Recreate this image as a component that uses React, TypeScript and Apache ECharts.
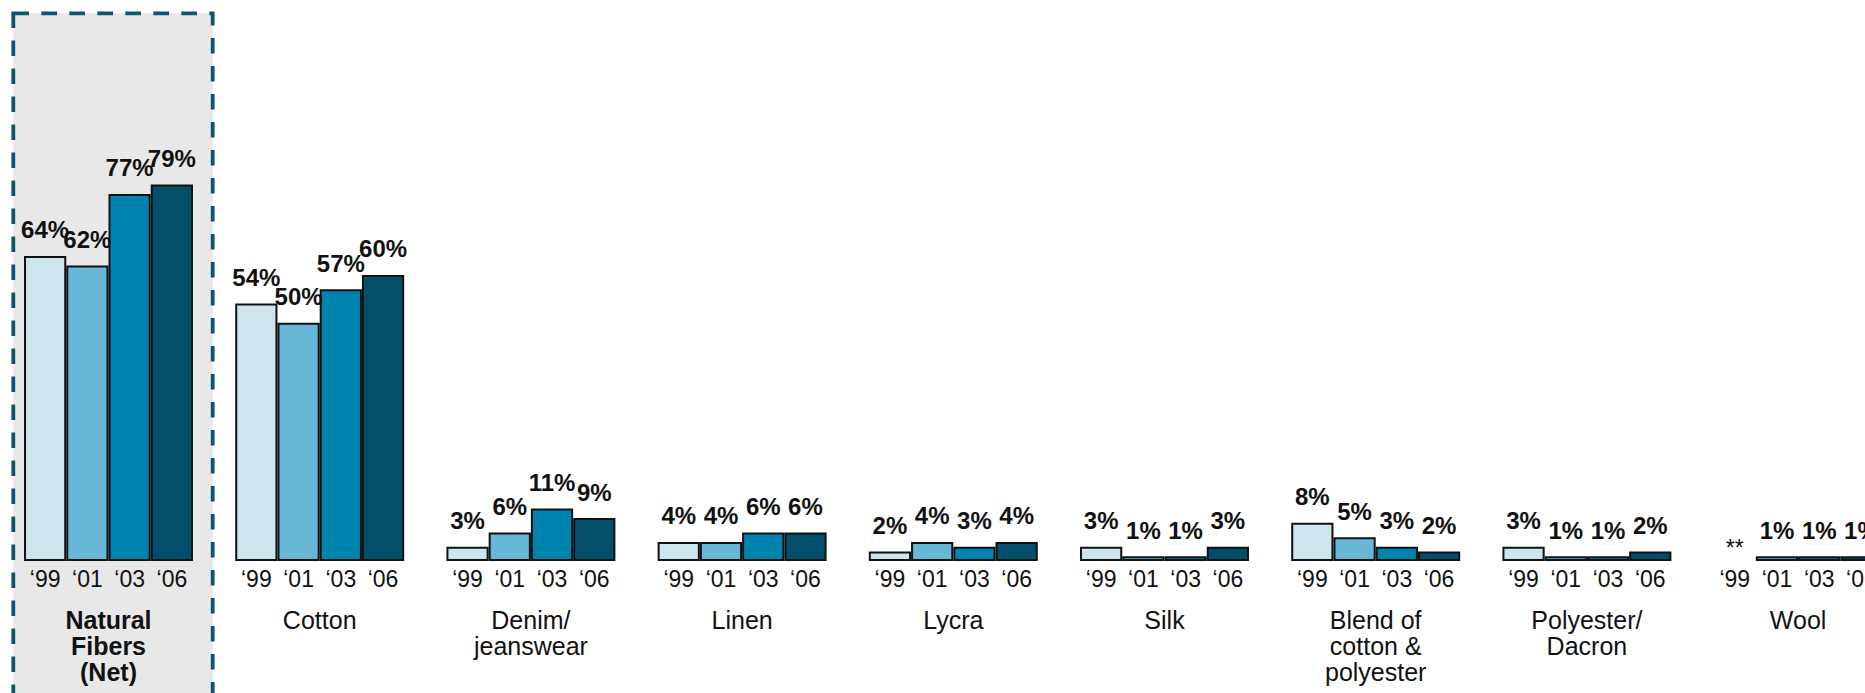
import React, { useEffect, useRef } from "react";
import * as echarts from "echarts";

const categories = [
  "Natural\nFibers\n(Net)",
  "Cotton",
  "Denim/\njeanswear",
  "Linen",
  "Lycra",
  "Silk",
  "Blend of\ncotton &\npolyester",
  "Polyester/\nDacron",
  "Wool",
];
const years = ["\u201899", "\u201801", "\u201803", "\u201806"];
const values99: (number | null)[] = [64, 54, 3, 4, 2, 3, 8, 3, null];
const values01: (number | null)[] = [62, 50, 6, 4, 4, 1, 5, 1, 1];
const values03: (number | null)[] = [77, 57, 11, 6, 3, 1, 3, 1, 1];
const values06: (number | null)[] = [79, 60, 9, 6, 4, 3, 2, 2, 1];
const notReportedLabel = "**";
const highlightedCategory = 0;

const yearColors = ["#cde6ed", "#66b8d6", "#0083ae", "#034f6b"];
const FONT = "'Liberation Sans', Arial, Helvetica, sans-serif";

export default function App() {
  const ref = useRef<HTMLDivElement>(null);

  useEffect(() => {
    if (!ref.current) return;
    const chart = echarts.init(ref.current, undefined, { renderer: "svg" });
    const yearValues = [values99, values01, values03, values06];
    const series: any[] = [];
    yearValues.forEach((vals, i) => {
      const stack = "year" + i;
      // zero-height companion bar carrying the year tick label below the baseline
      series.push({
        type: "bar",
        name: years[i] + " tick",
        stack,
        barGap: "0%",
        barCategoryGap: "20%",
        silent: true,
        data: categories.map(() => 0),
        itemStyle: { color: "transparent", borderWidth: 0 },
        label: {
          show: true,
          position: "bottom",
          distance: 6,
          formatter: years[i],
          fontSize: 23,
          color: "#111",
          fontFamily: FONT,
        },
      });
      series.push({
        type: "bar",
        name: years[i],
        stack,
        barGap: "0%",
        barCategoryGap: "20%",
        data: vals.map((v) =>
          v === null
            ? {
                value: 0,
                itemStyle: { color: "transparent", borderWidth: 0 },
                label: { formatter: notReportedLabel, fontWeight: "normal", fontSize: 23, distance: 2 },
              }
            : v
        ),
        itemStyle: { color: yearColors[i], borderColor: "#111", borderWidth: 2 },
        label: {
          show: true,
          position: "top",
          distance: 14,
          formatter: "{c}%",
          fontSize: 24,
          fontWeight: "bold",
          color: "#111",
          fontFamily: FONT,
        },
      });
    });

    chart.setOption({
      animation: false,
      backgroundColor: "#ffffff",
      textStyle: { fontFamily: FONT },
      grid: { left: 2.9, top: 84.3, width: 1900.8, height: 476.7, containLabel: false },
      xAxis: {
        type: "category",
        data: categories.map((c, i) =>
          i === highlightedCategory ? { value: c, textStyle: { fontWeight: "bold" } } : c
        ),
        axisLine: { show: false },
        axisTick: { show: false },
        splitLine: { show: false },
        axisLabel: {
          interval: 0,
          margin: 46,
          fontSize: 25,
          lineHeight: 26,
          color: "#111",
          fontFamily: FONT,
        },
      },
      yAxis: { type: "value", min: 0, max: 100, show: false },
      graphic: [
        {
          type: "rect",
          z: -10,
          shape: { x: 13.3, y: 13.3, width: 199.4, height: 760 },
          style: {
            fill: "#e8e8e8",
            stroke: "#0b5472",
            lineWidth: 3.8,
            lineDash: [15.7, 12.3],
          },
        },
      ],
      series,
    });
    return () => chart.dispose();
  }, []);

  return (
    <div
      style={{
        position: "fixed",
        left: 0,
        top: 0,
        width: 1865,
        height: 693,
        overflow: "hidden",
        background: "#fff",
      }}
    >
      <div ref={ref} style={{ width: 1910, height: 693 }} />
    </div>
  );
}
